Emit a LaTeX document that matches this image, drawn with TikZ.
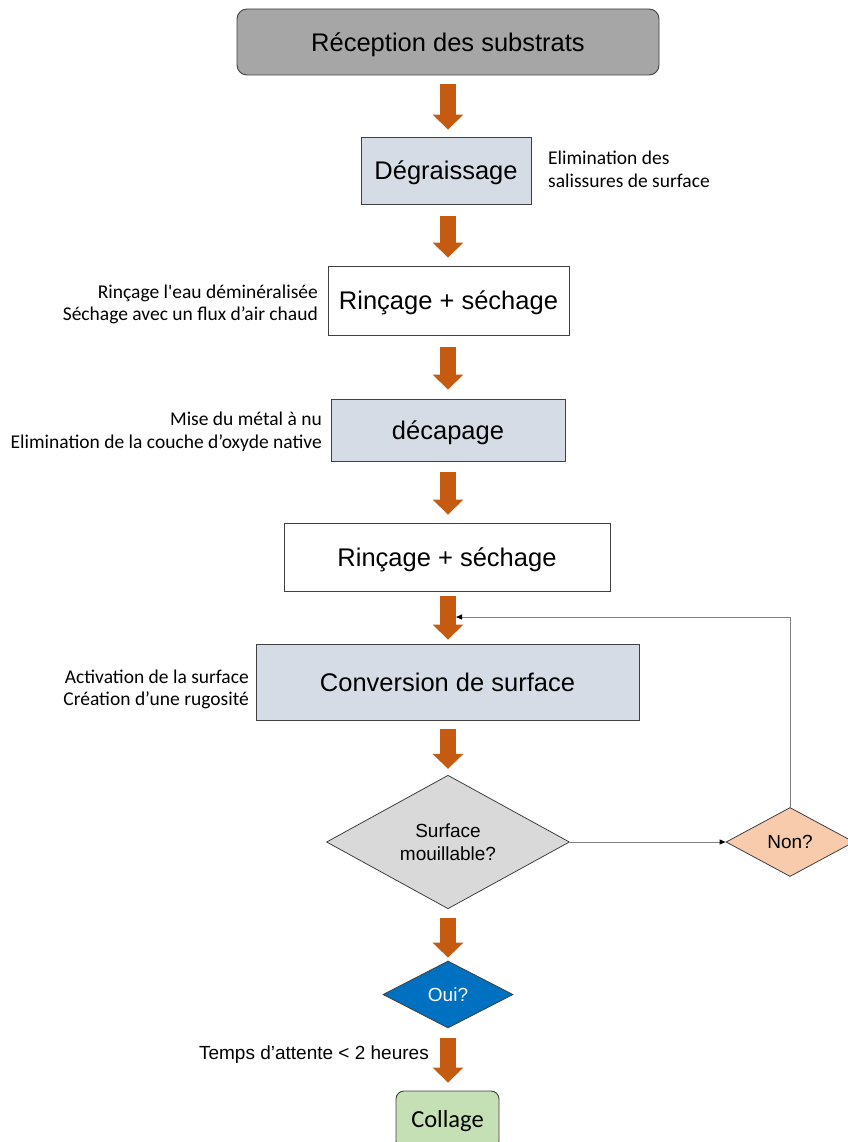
\documentclass[tikz,border=0pt]{standalone}
\usepackage{fontspec}
\setmainfont{Liberation Sans}
\newfontfamily\calib{Carlito}
\usetikzlibrary{arrows.meta,shapes.geometric,calc}
\definecolor{arrowc}{HTML}{C55A11}
\definecolor{recfill}{HTML}{A6A6A6}
\definecolor{lightfill}{HTML}{D6DCE5}
\definecolor{edgec}{HTML}{404040}
\definecolor{surffill}{HTML}{D9D9D9}
\definecolor{nonfill}{HTML}{F8CBAD}
\definecolor{ouifill}{HTML}{0070C0}
\definecolor{colfill}{HTML}{C5E0B4}
\definecolor{linec}{HTML}{7F7F7F}
\tikzset{
  stepbox/.style={draw=edgec, line width=0.9pt, inner sep=0pt, align=center,
    text height=18.3pt, text depth=0pt,
    font=\fontsize{25.5}{30}\selectfont},
  lightbox/.style={stepbox, fill=lightfill},
  whitebox/.style={stepbox, fill=white},
  notetxt/.style={inner sep=0pt, font=\calib\fontsize{19.5}{22.5}\selectfont},
  bigarrow/.style 2 args={draw=arrowc, line width=16pt,
    -{Triangle[width=30pt,length=15pt]}, shorten <=#1, shorten >=#2},
  decision/.style={diamond, draw=edgec, line width=0.8pt, inner sep=0pt,
    align=center, font=\fontsize{19}{23.5}\selectfont},
  thinline/.style={draw=linec, line width=0.9pt},
  smalltip/.style={-{Triangle[width=5pt,length=6pt,black]}}
}
\begin{document}
\begin{tikzpicture}[x=1pt,y=-1pt]
\useasboundingbox (0,0) rectangle (847,1142);
\fill[white] (0,0) rectangle (847,1142);

% main boxes
\node[stepbox, fill=recfill, rounded corners=10pt, minimum width=422pt, minimum height=66pt] (rec) at (448,42) {Réception des substrats};
\node[lightbox, minimum width=170pt, minimum height=67pt] (deg) at (446,170.5) {Dégraissage};
\node[whitebox, minimum width=241pt, minimum height=69pt] (rin1) at (448.5,300.5) {Rinçage + séchage};
\node[lightbox, minimum width=234pt, minimum height=62pt] (dec) at (448,430) {décapage};
\node[whitebox, minimum width=326pt, minimum height=68pt] (rin2) at (447,557) {Rinçage + séchage};
\node[lightbox, minimum width=383pt, minimum height=76pt] (conv) at (447.5,682) {Conversion de surface};

\node[decision, fill=surffill, minimum width=243pt, minimum height=128pt] (surf) at (448,842) {Surface\\mouillable?};
\node[decision, fill=nonfill, minimum width=128pt, minimum height=69pt] (non) at (790,842) {Non?};
\node[decision, fill=ouifill, text=white, minimum width=130pt, minimum height=67pt] (oui) at (448,994.5) {Oui?};
\node[stepbox, fill=colfill, rounded corners=8pt, minimum width=103pt, minimum height=58pt,
  text height=15pt, font=\calib\fontsize{24.5}{28}\selectfont] (col) at (447.5,1120) {Collage};

% side notes
\node[notetxt, anchor=west, align=left] (n1) at (548,169.5) {Elimination des\\salissures de surface};
\node[notetxt, anchor=east, align=right] (n2) at (318,304.5) {Rinçage l'eau déminéralisée\\Séchage avec un flux d’air chaud};
\node[notetxt, anchor=east, align=right] (n3) at (322,432) {Mise du métal à nu\\Elimination de la couche d’oxyde native};
\node[notetxt, anchor=east, align=right] (n4) at (249,689.5) {Activation de la surface\\Création d’une rugosité};
\node[inner sep=0pt, anchor=east, font=\fontsize{19}{23}\selectfont] (tps) at (429,1055) {Temps d’attente < 2 heures};

% block arrows
\draw[bigarrow={9pt}{7pt}] (rec.south) -- (rec.south |- deg.north);
\draw[bigarrow={12pt}{8pt}] (rec.south |- deg.south) -- (rec.south |- rin1.north);
\draw[bigarrow={12pt}{9pt}] (rec.south |- rin1.south) -- (rec.south |- dec.north);
\draw[bigarrow={11pt}{8pt}] (rec.south |- dec.south) -- (rec.south |- rin2.north);
\draw[bigarrow={5pt}{4pt}] (rec.south |- rin2.south) -- (rec.south |- conv.north);
\draw[bigarrow={9pt}{6pt}] (rec.south |- conv.south) -- (surf.north);
\draw[bigarrow={9pt}{3pt}] (surf.south) -- (oui.north);
\draw[bigarrow={10pt}{8pt}] (oui.south) -- (oui.south |- col.north);

% decision connectors
\coordinate (fb) at (456,617);
\draw[thinline, smalltip] (surf.east) -- (non.west);
\draw[thinline, smalltip] (non.north) |- (fb);
\end{tikzpicture}
\end{document}
